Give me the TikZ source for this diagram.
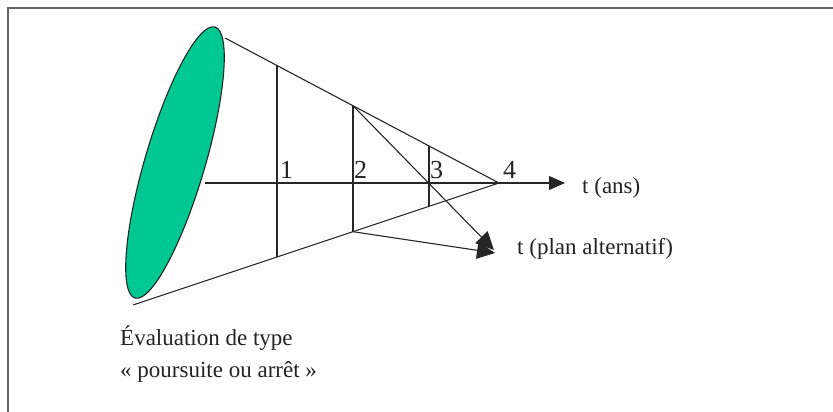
\documentclass[tikz,border=0pt]{standalone}
\usepackage{fontspec}
\setmainfont{Liberation Serif}
\usetikzlibrary{arrows.meta}
\definecolor{conegreen}{RGB}{0,200,145}
\definecolor{framegray}{RGB}{100,100,100}
\definecolor{txt}{RGB}{35,35,35}
\begin{document}
\begin{tikzpicture}[x=1pt,y=-1pt,
  ln/.style={line width=1.1pt, black!85},
  arr/.style={ln, -{Triangle[length=16pt,width=14pt]}},
  arrb/.style={ln, -{Triangle[length=18pt,width=17pt]}},
  lbl/.style={inner sep=0pt, text=txt, font=\fontsize{23}{27}\selectfont, anchor=base west},
  dig/.style={inner sep=0pt, text=txt, font=\fontsize{26}{30}\selectfont, anchor=base west}]
\useasboundingbox (0,0) rectangle (833,412);
% frame (top and left only)
\coordinate (fTR) at (833,8.5);
\coordinate (fTL) at (7.5,8.5);
\coordinate (fBL) at (7.5,412);
\draw[framegray, line width=2pt] (fTR) -- (fTL) -- (fBL);
% ellipse base
\coordinate (ec) at (175,162.5);
\draw[ln, fill=conegreen] (ec) ellipse[x radius=141.3, y radius=30, rotate=73.55];
% cone
\coordinate (top) at (225,38);
\coordinate (bot) at (133,305);
\coordinate (apex) at (499,183);
\draw[ln] (top) -- (apex) -- (bot);
% axis
\coordinate (ax0) at (205,183);
\coordinate (axE) at (565,183);
\draw[arr] (ax0) -- (axE);
% vertical sections
\coordinate (v1t) at (277,65.5);  \coordinate (v1b) at (277,257);
\coordinate (v2t) at (353,105.7); \coordinate (v2b) at (353,231.7);
\coordinate (v3t) at (429,146);   \coordinate (v3b) at (429,206.3);
\draw[ln] (v1t) -- (v1b);
\draw[ln] (v2t) -- (v2b);
\draw[ln] (v3t) -- (v3b);
% alternative plan arrows
\coordinate (altA) at (494,250);
\coordinate (altB) at (495,253);
\draw[arrb] (v2t) -- (altA);
\draw[arrb] (v2b) -- (altB);
% labels
\node[dig] (n1) at (280,178) {1};
\node[dig] (n2) at (354,178) {2};
\node[dig] (n3) at (430,178) {3};
\node[dig] (n4) at (503,178) {4};
\node[lbl] (tans) at (582,193) {t (ans)};
\node[lbl] (talt) at (517,254) {t (plan alternatif)};
\node[lbl] (ev1) at (120,345) {Évaluation de type};
\node[lbl] (ev2) at (120,377) {« poursuite ou arrêt »};
\end{tikzpicture}
\end{document}
